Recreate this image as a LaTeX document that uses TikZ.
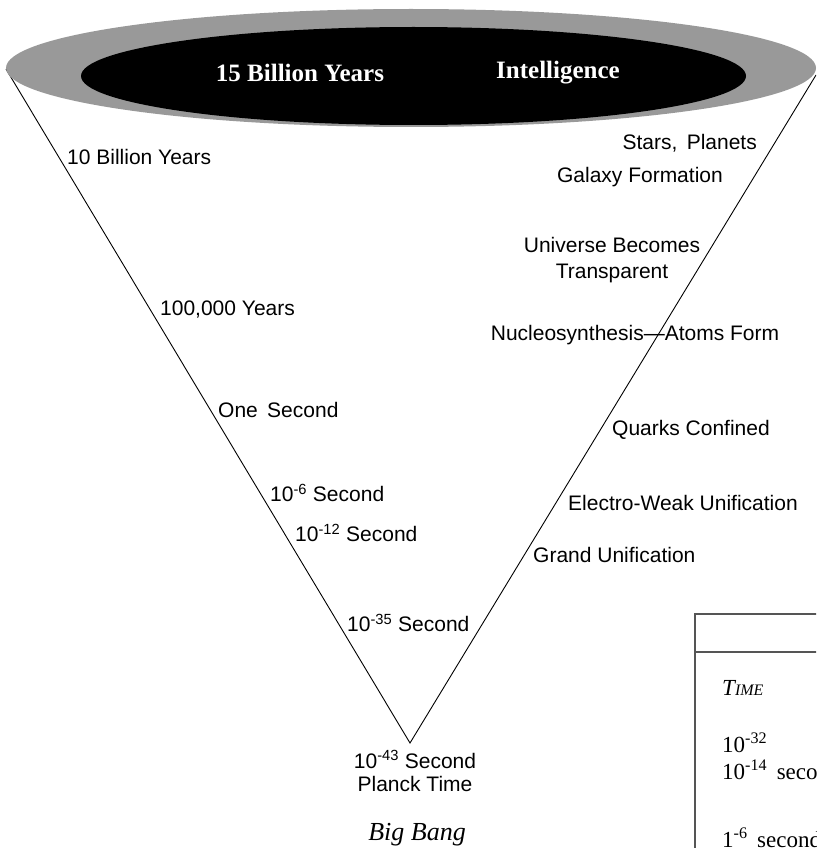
\documentclass[tikz,border=0pt]{standalone}
\usepackage{fontspec}
\setmainfont{Liberation Serif}
\setsansfont{Liberation Sans}
\usetikzlibrary{positioning}
\definecolor{rim}{RGB}{153,153,153}
\definecolor{boxline}{RGB}{85,85,85}
\tikzset{era/.style={inner sep=0pt,font=\sffamily\fontsize{21}{26}\selectfont}}

\begin{document}
\begin{tikzpicture}[x=1pt,y=-1pt]
  \tikzset{toptext/.style={inner sep=0pt,text=white,font=\bfseries\fontsize{25}{30}\selectfont}}
  \tikzset{tabletext/.style={inner sep=0pt,anchor=west,font=\fontsize{23}{27}\selectfont}}
  \tikzset{cone/.style={line width=0.9}}

  \useasboundingbox (0,0) rectangle (816,848);
  \clip (0,0) rectangle (816,848);

  \coordinate (rimleft) at (6,69);
  \coordinate (apex) at (410,743);
  \coordinate (rimright) at (816,75);
  \draw[cone] (rimleft) -- (apex) -- (rimright);

  \fill[rim] (411,68) ellipse [x radius=405, y radius=59];
  \fill[black] (413.5,76) ellipse [x radius=332.5, y radius=49];
  \node[toptext] (now) at (300,73) {15 Billion Years};
  \node[toptext] (intel) at (558,73) {Intelligence};

  \node[era,anchor=west] (tenbillion) at (67,157) {10 Billion Years};
  \node[era,anchor=west] (hundredk) at (160,310) {100,000 Years};
  \node[era,anchor=west] (onesec) at (218,410) {One\, Second};
  \node[era,anchor=west] (sixsec) at (270,493) {10\textsuperscript{-6} Second};
  \node[era,anchor=west] (twelvesec) at (295,533) {10\textsuperscript{-12} Second};
  \node[era,anchor=west] (thirtyfive) at (347,623) {10\textsuperscript{-35} Second};
  \node[era,align=center,font=\sffamily\fontsize{21}{23}\selectfont] (planck) at (415,771) {10\textsuperscript{-43} Second\\Planck Time};
  \node[inner sep=0pt,font=\itshape\fontsize{26}{30}\selectfont] (bang) at (417,835) {Big Bang};

  \node[era,anchor=east] (stars) at (757,143) {Stars,\, Planets};
  \node[era,anchor=east] (galaxy) at (723,177) {Galaxy Formation};
  \node[era,align=center] (transparent) at (612,260) {Universe Becomes\\Transparent};
  \node[era] (atoms) at (635,335) {Nucleosynthesis---Atoms Form};
  \node[era,anchor=west] (quarks) at (612,430) {Quarks Confined};
  \node[era,anchor=west] (weak) at (568,503) {Electro-Weak Unification};
  \node[era,anchor=west] (grand) at (533,555) {Grand Unification};

  \draw[boxline,line width=1.2] (695,860) -- (695,614) -- (830,614);
  \draw[boxline,line width=1.2] (695,652) -- (830,652);
  \node[tabletext] (time) at (722,688) {\itshape T{\fontsize{16}{20}\selectfont IME}};
  \node[tabletext] (tbig) at (722,743) {10\textsuperscript{-32}};
  \node[tabletext] (tfourteen) at (722,770) {10\textsuperscript{-14}\, second};
  \node[tabletext] (tsix) at (722,838) {1\textsuperscript{-6}\, second};
\end{tikzpicture}
\end{document}
